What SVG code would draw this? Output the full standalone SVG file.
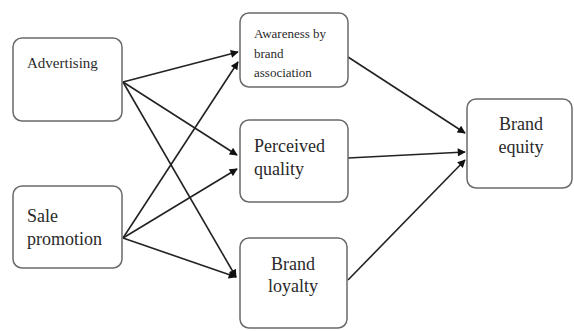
<svg xmlns="http://www.w3.org/2000/svg" width="574" height="331" viewBox="0 0 574 331">
<style>
.box{fill:#fff;stroke:#6a6a6a;stroke-width:1.5}
.t{font-family:'Liberation Serif','Times New Roman',Tinos,'Noto Serif','DejaVu Serif',FreeSerif,Times,serif;fill:#2a2a2a}
.c{stroke:#222;stroke-width:1.6;fill:none;marker-end:url(#ah)}
</style>
<defs>
<marker id="ah" viewBox="0 0 10 10" refX="9" refY="5" markerWidth="9" markerHeight="8" markerUnits="userSpaceOnUse" orient="auto">
<path d="M0,0 L10,5 L0,10 z" fill="#111"/>
</marker>
</defs>
<rect width="574" height="331" fill="#fff"/>
<g id="connectors">
<line class="c" x1="123" y1="82" x2="238" y2="52"/>
<line class="c" x1="123" y1="82" x2="237" y2="155"/>
<line class="c" x1="123" y1="82" x2="236" y2="277"/>
<line class="c" x1="123" y1="238" x2="238" y2="62"/>
<line class="c" x1="123" y1="238" x2="237" y2="169"/>
<line class="c" x1="123" y1="238" x2="236" y2="277"/>
<line class="c" x1="348" y1="57" x2="465" y2="133"/>
<line class="c" x1="348" y1="158" x2="465" y2="152"/>
<line class="c" x1="348" y1="280" x2="465" y2="160"/>
</g>
<g id="advertising">
<rect class="box" x="13" y="38" width="109" height="83" rx="9"/>
<text class="t" x="27" y="68" font-size="15">Advertising</text>
</g>
<g id="sale-promotion">
<rect class="box" x="13" y="186" width="109" height="82" rx="9"/>
<text class="t" x="27" y="222" font-size="18">Sale</text>
<text class="t" x="27" y="245" font-size="18">promotion</text>
</g>
<g id="awareness">
<rect class="box" x="240" y="13" width="108" height="74" rx="9"/>
<text class="t" x="254" y="38" font-size="13">Awareness by</text>
<text class="t" x="254" y="58" font-size="13">brand</text>
<text class="t" x="254" y="77" font-size="13">association</text>
</g>
<g id="perceived-quality">
<rect class="box" x="240" y="120" width="108" height="82" rx="9"/>
<text class="t" x="254" y="152" font-size="18">Perceived</text>
<text class="t" x="254" y="175" font-size="18">quality</text>
</g>
<g id="brand-loyalty">
<rect class="box" x="240" y="238" width="107" height="90" rx="9"/>
<text class="t" x="293" y="270" font-size="18" text-anchor="middle">Brand</text>
<text class="t" x="293" y="292" font-size="18" text-anchor="middle">loyalty</text>
</g>
<g id="brand-equity">
<rect class="box" x="467" y="99" width="105" height="89" rx="9"/>
<text class="t" x="521" y="130" font-size="18" text-anchor="middle">Brand</text>
<text class="t" x="521" y="153" font-size="18" text-anchor="middle">equity</text>
</g>
</svg>
